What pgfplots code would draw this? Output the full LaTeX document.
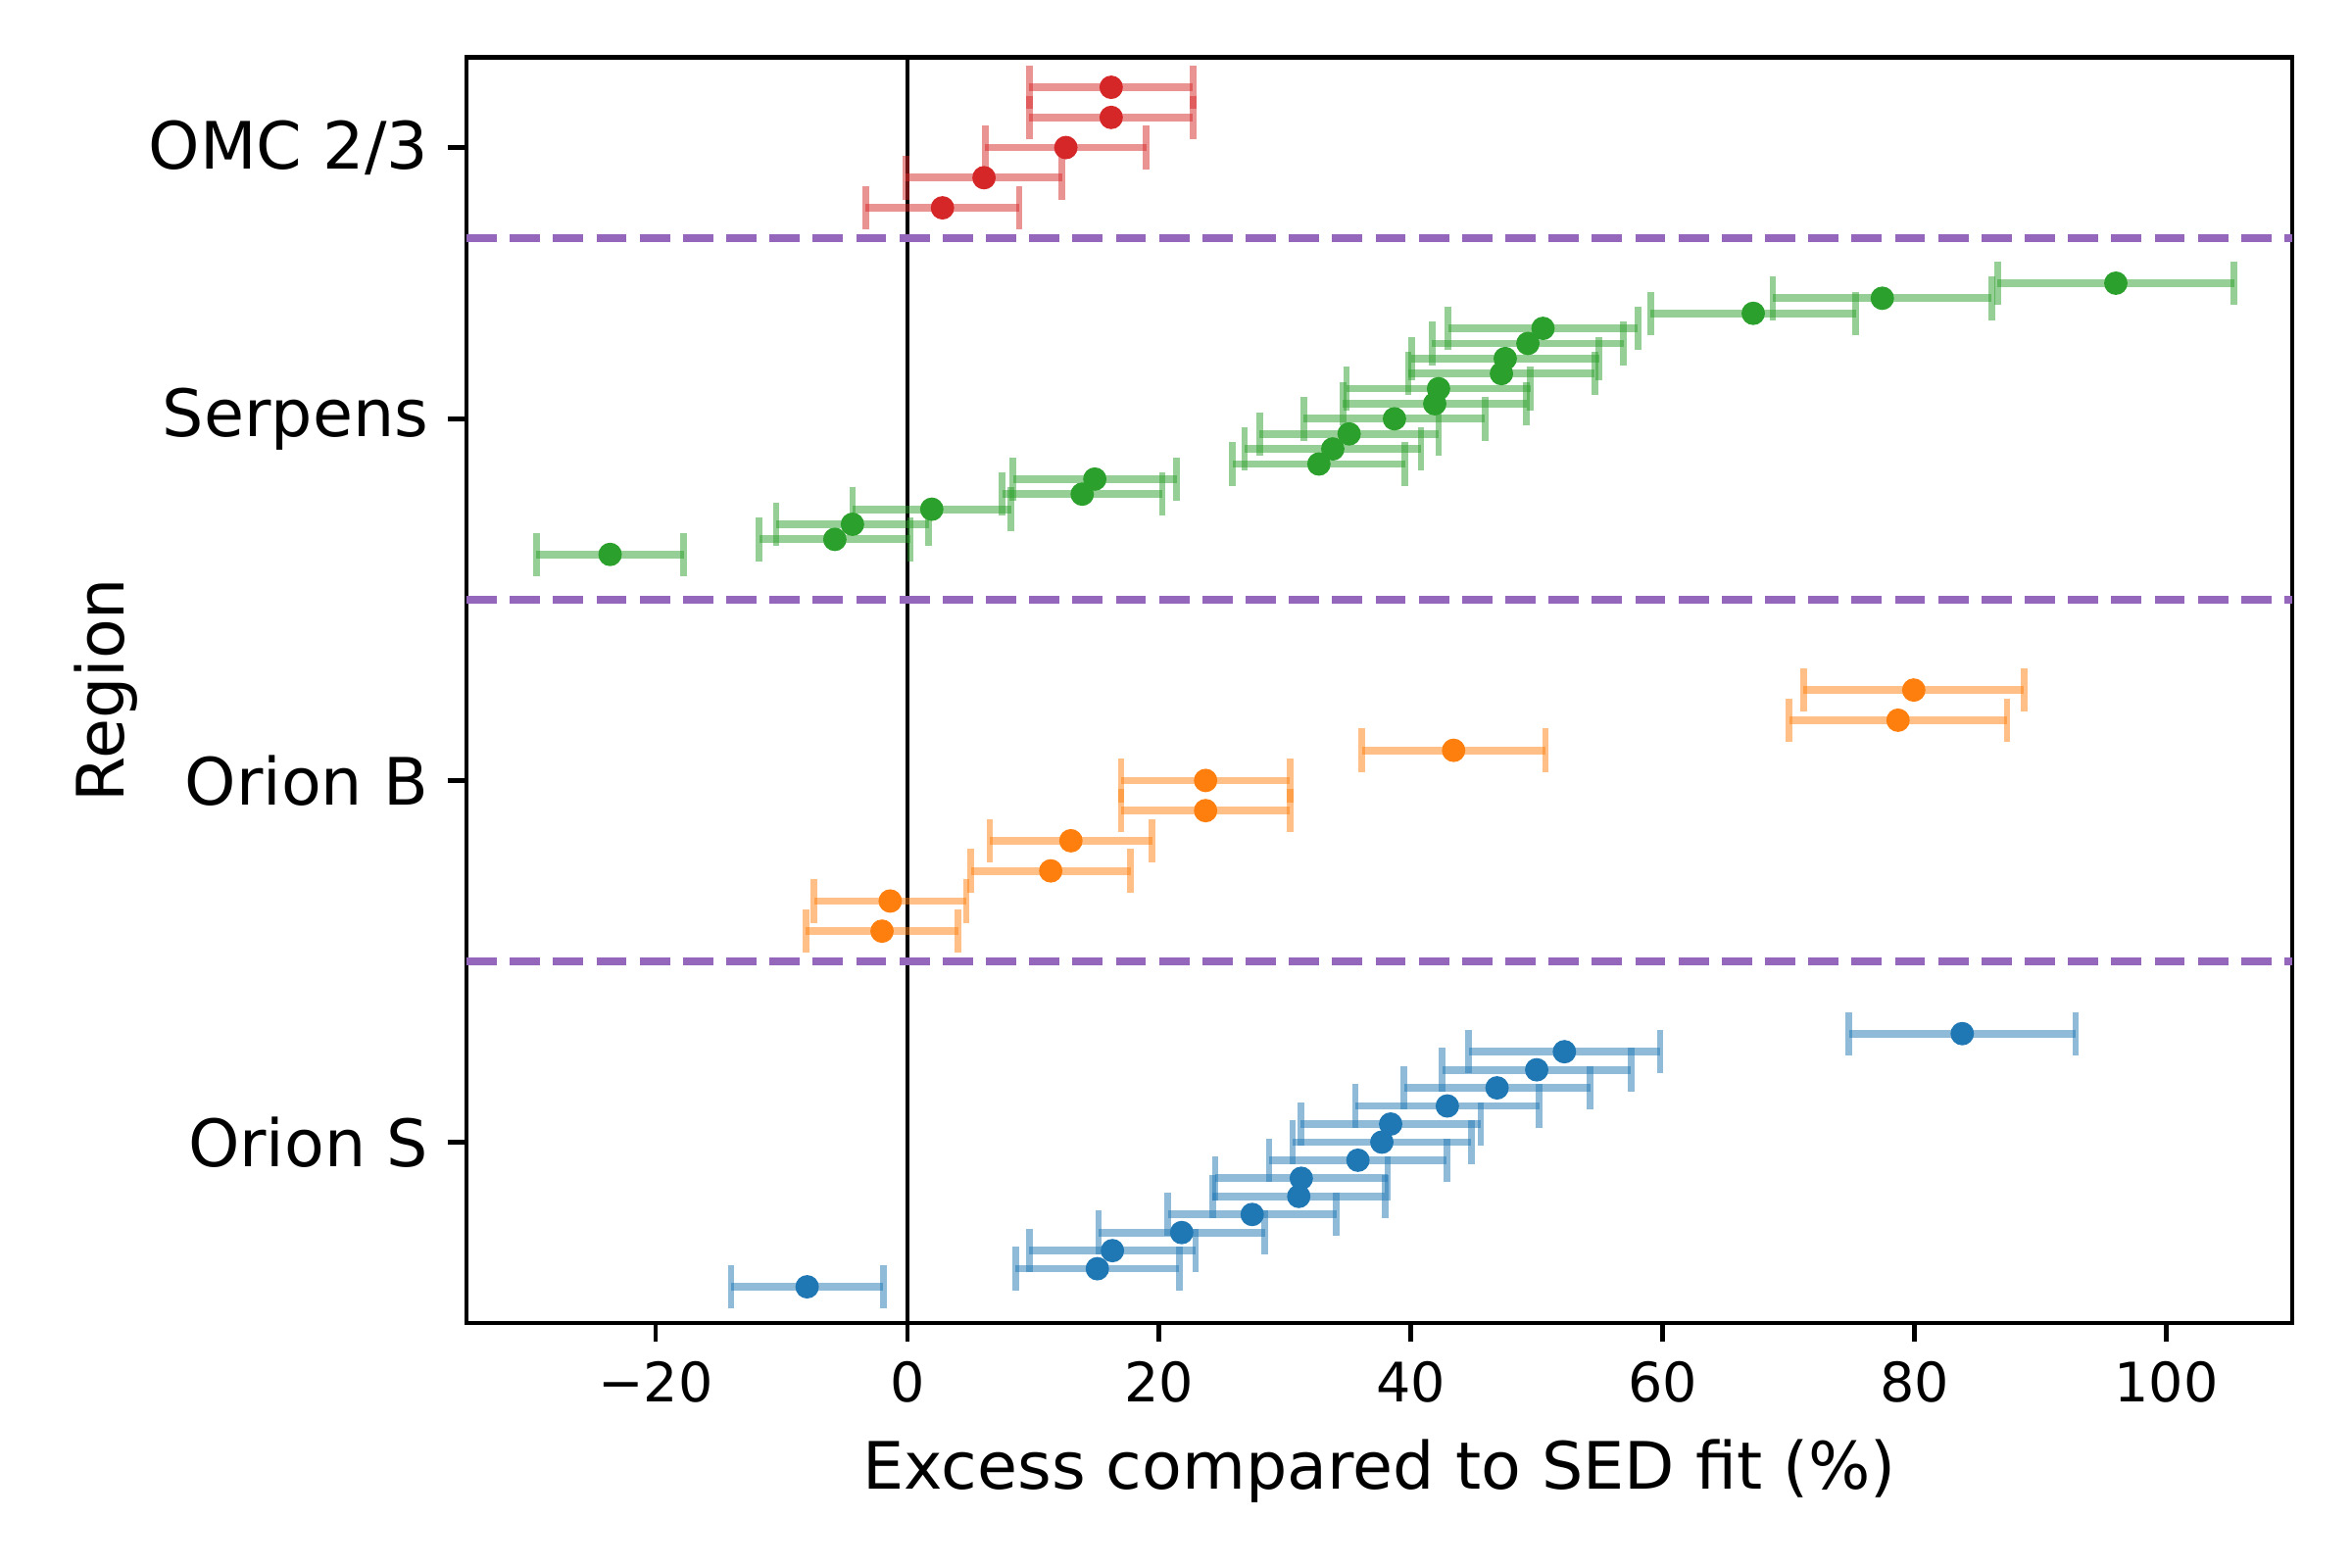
\documentclass[border=0pt]{standalone}
\usepackage{pgfplots}
\pgfplotsset{compat=1.18}
\usepackage{fontspec}
\setmainfont{DejaVu Sans}

\definecolor{tabblue}{HTML}{1F77B4}
\definecolor{taborange}{HTML}{FF7F0E}
\definecolor{tabgreen}{HTML}{2CA02C}
\definecolor{tabred}{HTML}{D62728}
\definecolor{tabpurple}{HTML}{9467BD}

\pgfplotsset{
  errpts/.style={
    only marks, mark=*, mark size=1.95pt, color=#1,
    error bars/.cd, x dir=both, x explicit,
    error bar style={line width=1.4pt, #1, opacity=0.5},
    error mark options={line width=1.2pt, #1, opacity=0.5, mark size=4pt, rotate=90}
  }
}

\begin{document}
\begin{tikzpicture}
\begin{axis}[
    scale only axis,
    width=335.3pt, height=232.5pt,
    xmin=-35, xmax=110,
    ymin=0, ymax=70,
    axis line style={line width=0.8pt},
    xtick={-20,0,20,40,60,80,100},
    xticklabels={−20,0,20,40,60,80,100},
    ytick={10,30,50,65},
    yticklabels={Orion S,Orion B,Serpens,OMC 2/3},
    xtick pos=bottom, ytick pos=left,
    tick align=outside,
    major tick length=3.5pt,
    tick style={line width=0.8pt, black},
    x tick label style={font=\fontsize{10}{12}\selectfont},
    y tick label style={font=\fontsize{12}{14}\selectfont},
    xlabel={Excess compared to SED fit (\%)},
    ylabel={Region},
    ylabel shift=-4.7pt,
    label style={font=\fontsize{12}{14}\selectfont},
    clip=true,
]

% reference line at zero
\addplot[black, line width=0.8pt] coordinates {(0,0) (0,70)};

% region separators
\addplot[tabpurple, line width=1.5pt, dash pattern=on 5.55pt off 2.4pt] coordinates {(-35,20) (110,20)};
\addplot[tabpurple, line width=1.5pt, dash pattern=on 5.55pt off 2.4pt] coordinates {(-35,40) (110,40)};
\addplot[tabpurple, line width=1.5pt, dash pattern=on 5.55pt off 2.4pt] coordinates {(-35,60) (110,60)};

% Orion S
\addplot[errpts=tabblue] table[x=x, y=y, x error=e] {
x      y    e
83.8   16   9.0
52.2   15   7.6
50.0   14   7.5
46.85  13   7.4
42.9   12   7.3
38.4   11   7.15
37.7   10   7.1
35.8   9    7.05
31.3   8    6.85
31.1   7    6.85
27.4   6    6.7
21.8   5    6.6
16.3   4    6.6
15.1   3    6.5
-7.95  2    6.05
};

% Orion B
\addplot[errpts=taborange] table[x=x, y=y, x error=e] {
x      y       e
79.95  35      8.75
78.7   33.333  8.65
43.4   31.667  7.3
23.7   30      6.7
23.7   28.333  6.7
13.0   26.667  6.45
11.4   25      6.35
-1.35  23.333  6.05
-2.0   21.667  6.05
};

% Serpens
\addplot[errpts=tabgreen] table[x=x, y=y, x error=e] {
x      y       e
96.0   57.5    9.4
77.45  56.667  8.7
67.2   55.833  8.15
50.5   55      7.55
49.3   54.167  7.6
47.5   53.333  7.45
47.2   52.5    7.4
42.2   51.667  7.3
41.9   50.833  7.3
38.7   50      7.2
35.1   49.167  7.1
33.8   48.333  7.0
32.7   47.5    6.85
14.9   46.667  6.5
13.9   45.833  6.35
1.95   45      6.3
-4.35  44.167  6.05
-5.75  43.333  6.0
-23.6  42.5    5.85
};

% OMC 2/3
\addplot[errpts=tabred] table[x=x, y=y, x error=e] {
x      y       e
16.2   68.333  6.5
16.2   66.667  6.5
12.6   65      6.4
6.1    63.333  6.2
2.8    61.667  6.1
};

\end{axis}
% fix the page to the reference's 6in x 4in frame
\path (current axis.south west) ++(-85.7pt,-45pt) coordinate (bbsw);
\path (current axis.north east) ++(11pt,10.5pt) coordinate (bbne);
\useasboundingbox (bbsw) rectangle (bbne);
\end{tikzpicture}
\end{document}
